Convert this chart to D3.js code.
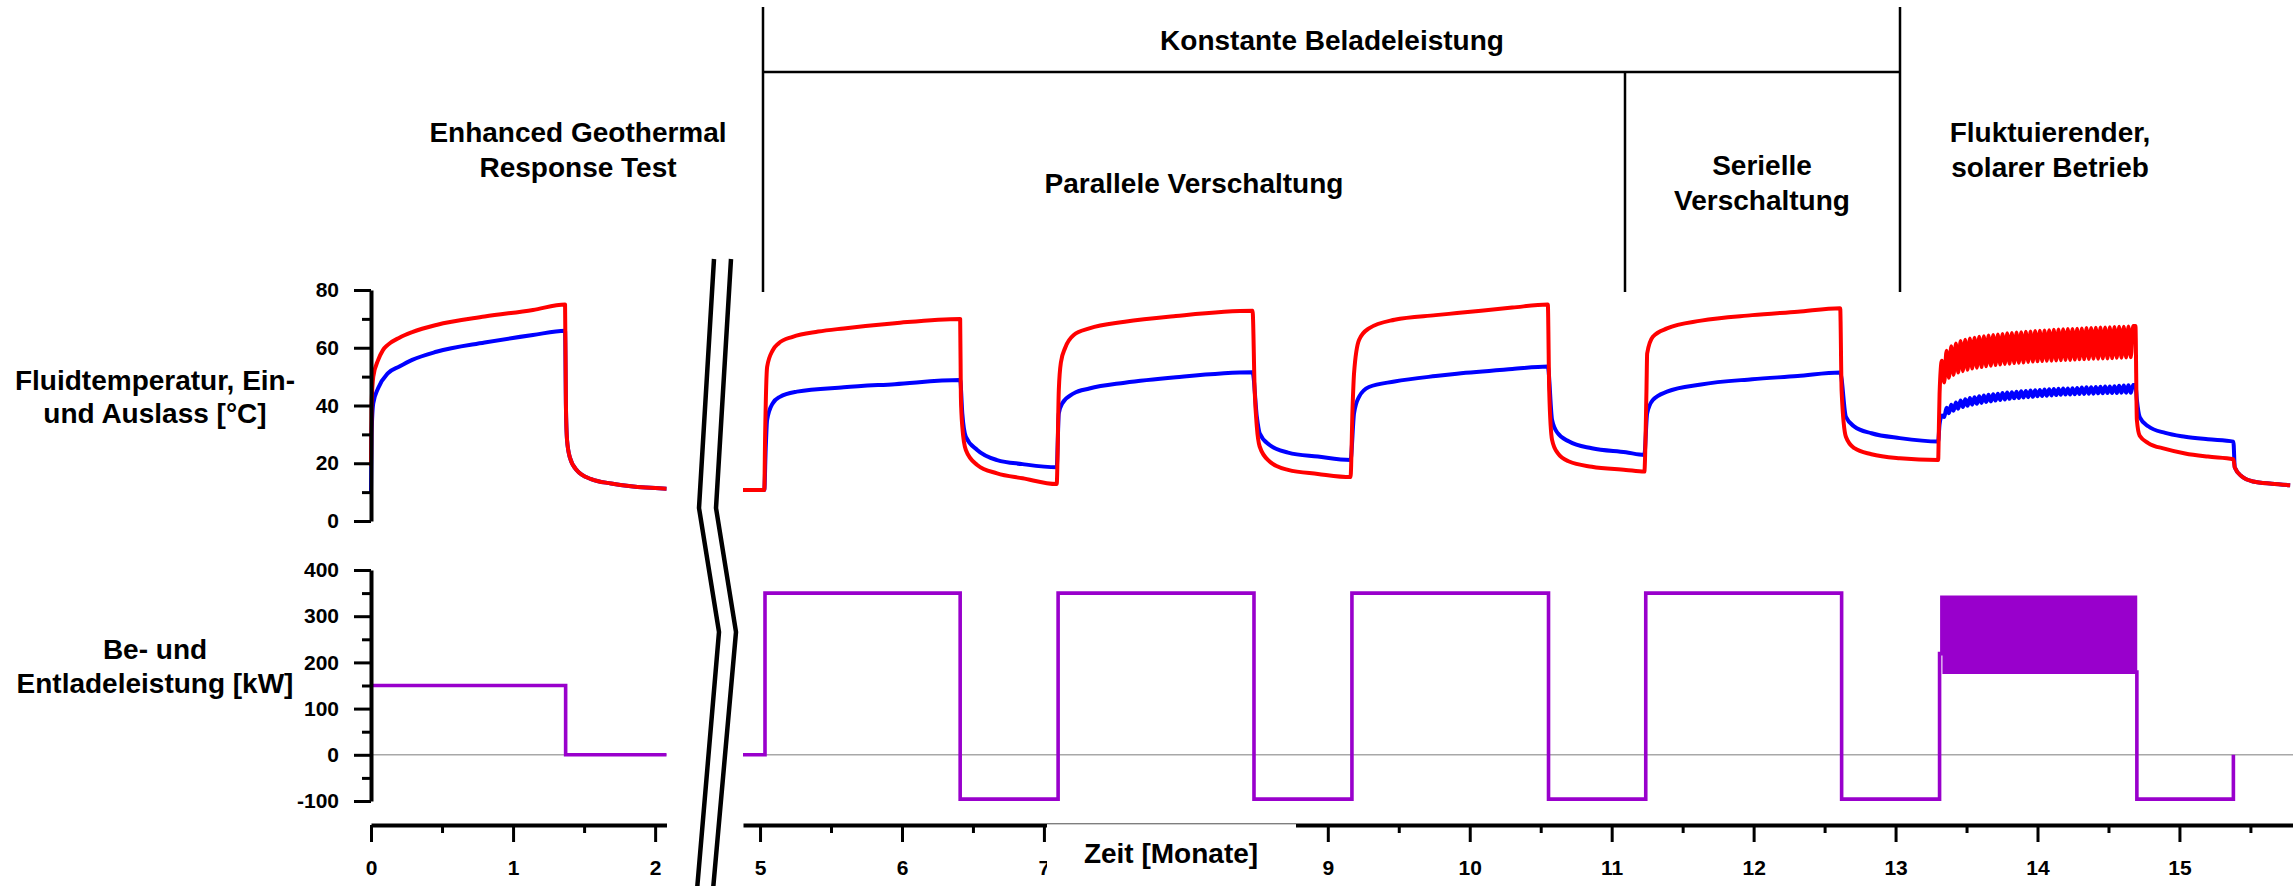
<!DOCTYPE html>
<html>
<head>
<meta charset="utf-8">
<script src="https://cdn.jsdelivr.net/npm/d3@7"></script>
<style>
  html, body { margin: 0; padding: 0; background: #fff; }
  svg { display: block; }
  text { font-family: "Liberation Sans", Arial, Helvetica, sans-serif; font-weight: bold; fill: #000; }
</style>
</head>
<body>
<svg id="chart" width="2293" height="886"></svg>
<script>
// ---------------- data ----------------
// time in months, temperature in °C, power in kW

const egrtMonthTicks = [0, 1, 2];
const egrtMonthMinor = [0.5, 1.5];
// month 8 sits under the axis title box, so it carries no label
const monthTicks = [5, 6, 7, 9, 10, 11, 12, 13, 14, 15];
const monthMinor = [5.5, 6.5, 7.5, 8.5, 9.5, 10.5, 11.5, 12.5, 13.5, 14.5, 15.5];
const tempTicks = [0, 20, 40, 60, 80];
const tempMinor = [10, 30, 50, 70];
const powerTicks = [-100, 0, 100, 200, 300, 400];
const powerMinor = [-50, 50, 150, 250, 350];

// Enhanced Geothermal Response Test
const egrtInlet = [
  [0, 19], [0.004, 40], [0.016, 50], [0.05, 55.7], [0.084, 59.2], [0.118, 61], [0.2, 63.5],
  [0.29, 65.4], [0.46, 67.9], [0.8, 70.8], [1.14, 73.1], [1.366, 75],
  [1.372, 40], [1.38, 28], [1.40, 22], [1.45, 17.5], [1.55, 14.5], [1.69, 13], [1.83, 12], [2.08, 11.2]
];
const egrtOutlet = [
  [0, 10], [0.004, 30], [0.016, 40.8], [0.05, 46], [0.118, 51.1], [0.2, 53.5], [0.29, 55.8],
  [0.46, 58.6], [0.8, 61.8], [1.14, 64.4], [1.366, 65.9],
  [1.372, 40], [1.38, 28], [1.40, 22], [1.45, 17.5], [1.55, 14.5], [1.69, 13], [1.83, 12], [2.08, 11.2]
];
const egrtPower = [[0, 150], [1.37, 0], [2.08, 0]];

// Constant charging (parallel and serial), before the solar period
const inletBefore = [
  [4.88, 10.7], [5.03, 10.7], [5.036, 30], [5.05, 53.4], [5.09, 59.2], [5.13, 61.5], [5.23, 63.8],
  [5.41, 65.6], [5.59, 66.7], [5.95, 68.5], [6.41, 70.0],
  [6.415, 43], [6.425, 32.7], [6.45, 24.6], [6.53, 19.4], [6.67, 16.5], [6.85, 14.8], [7.09, 12.8],
  [7.105, 45.4], [7.12, 55], [7.15, 60], [7.21, 64.4], [7.32, 66.7], [7.57, 69.0], [7.93, 71], [8.47, 72.8],
  [8.485, 45], [8.50, 32.7], [8.52, 25.8], [8.59, 20.6], [8.72, 17.7], [8.93, 16.3], [9.16, 15.2],
  [9.175, 40], [9.185, 51.2], [9.22, 62.7], [9.29, 66.7], [9.47, 69.7], [9.76, 71.3], [9.91, 72],
  [10.3, 73.9], [10.55, 75],
  [10.56, 45], [10.58, 28.1], [10.62, 23.5], [10.70, 20.6], [10.86, 18.8], [11.10, 17.7], [11.23, 17.1],
  [11.245, 45], [11.25, 58], [11.29, 63.8], [11.39, 66.7], [11.63, 69.4], [11.99, 71.3], [12.31, 72.5],
  [12.61, 73.7],
  [12.62, 45], [12.65, 29.2], [12.71, 25.2], [12.83, 23.1], [13.03, 21.7], [13.30, 21.1], [13.305, 32]
];
const outletBefore = [
  [4.88, 10.7], [5.03, 10.7], [5.04, 25], [5.05, 35], [5.09, 40.8], [5.14, 43], [5.26, 44.8],
  [5.59, 46.3], [5.95, 47.4], [6.41, 48.8],
  [6.425, 37.3], [6.45, 29.2], [6.53, 24.6], [6.67, 21.1], [6.85, 19.7], [7.09, 18.6],
  [7.105, 37.3], [7.13, 40.8], [7.21, 44.2], [7.32, 45.9], [7.57, 47.9], [7.93, 49.8], [8.47, 51.5],
  [8.50, 36.1], [8.52, 30.4], [8.59, 26.3], [8.72, 23.7], [8.93, 22.3], [9.16, 21.1],
  [9.185, 37.3], [9.22, 43], [9.29, 46.4], [9.47, 48.3], [9.76, 50.2], [9.91, 51.0], [10.3, 52.6],
  [10.55, 53.5],
  [10.58, 35], [10.62, 30.4], [10.70, 27.5], [10.86, 25.2], [11.10, 23.8], [11.23, 22.9],
  [11.25, 37.3], [11.29, 41.9], [11.39, 44.8], [11.63, 47.3], [11.99, 49.1], [12.31, 50.2], [12.61, 51.4],
  [12.65, 36.1], [12.71, 32.7], [12.83, 30.4], [13.03, 28.7], [13.30, 27.5]
];

// Fluctuating solar operation: one entry per day (daily maximum / minimum)
const solarStart = 13.31;
const solarEnd = 14.69;
const solarInletHigh = [
  55.5, 59.0, 60.5, 61.5, 62.3, 62.8, 63.2, 63.5, 63.8, 64.0, 64.2, 64.4, 64.6, 64.8,
  65.0, 65.1, 65.3, 65.4, 65.5, 65.6, 65.8, 65.9, 66.0, 66.1, 66.2, 66.3, 66.4, 66.5,
  66.5, 66.6, 66.7, 66.8, 66.8, 66.9, 67.0, 67.0, 67.1, 67.2, 67.3, 67.3, 67.4, 67.5
];
const solarInletLow = [
  44.0, 48.0, 49.6, 50.6, 51.4, 51.9, 52.4, 52.8, 53.1, 53.3, 53.6, 53.8, 54.0, 54.2,
  54.4, 54.5, 54.7, 54.8, 54.9, 55.1, 55.2, 55.3, 55.4, 55.5, 55.5, 55.6, 55.7, 55.8,
  55.8, 55.9, 56.0, 56.0, 56.1, 56.2, 56.2, 56.3, 56.3, 56.4, 56.5, 56.5, 56.6, 56.7
];
const solarOutletHigh = [
  36.5, 39.2, 40.3, 41.0, 41.7, 42.2, 42.6, 42.9, 43.2, 43.5, 43.7, 43.9, 44.1, 44.3,
  44.5, 44.6, 44.8, 44.9, 45.0, 45.2, 45.3, 45.4, 45.5, 45.6, 45.7, 45.8, 45.9, 45.9,
  46.0, 46.1, 46.2, 46.3, 46.3, 46.4, 46.5, 46.6, 46.6, 46.7, 46.8, 46.9, 47.0, 47.1
];
const solarOutletLow = [
  33.5, 36.0, 37.3, 38.2, 38.9, 39.5, 39.9, 40.3, 40.6, 40.9, 41.2, 41.4, 41.7, 41.9,
  42.1, 42.3, 42.5, 42.6, 42.8, 42.9, 43.0, 43.2, 43.3, 43.4, 43.5, 43.6, 43.7, 43.8,
  43.8, 43.9, 44.0, 44.0, 44.1, 44.1, 44.2, 44.2, 44.3, 44.3, 44.3, 44.4, 44.4, 44.4
];
const solarPowerHigh = [
  341, 341, 341, 341, 341, 341, 341, 341, 341, 341, 341, 341, 341, 341,
  341, 341, 341, 341, 341, 341, 341, 341, 341, 341, 341, 341, 341, 341,
  341, 341, 341, 341, 341, 341, 341, 341, 341, 341, 341, 341, 341, 341
];
const solarPowerLow = [
  179, 179, 179, 179, 179, 179, 179, 179, 179, 179, 179, 179, 179, 179,
  179, 179, 179, 179, 179, 179, 179, 179, 179, 179, 179, 179, 179, 179,
  179, 179, 179, 179, 179, 179, 179, 179, 179, 179, 179, 179, 179, 179
];

// Discharge after the solar period and final standstill
const inletAfter = [
  [14.69, 67.5], [14.70, 35], [14.72, 29.5], [14.78, 27], [14.9, 25], [15.04, 23.4], [15.2, 22.3],
  [15.38, 21.4], [15.39, 18.5], [15.44, 15.4], [15.52, 13.7], [15.65, 12.9], [15.78, 12.4]
];
const outletAfter = [
  [14.69, 47.1], [14.70, 42], [14.72, 36], [14.78, 32.8], [14.9, 30.5], [15.04, 29.2], [15.2, 28.3],
  [15.38, 27.5], [15.39, 18.5], [15.44, 15.4], [15.52, 13.7], [15.65, 12.9], [15.78, 12.4]
];

// Charging / discharging power (step changes)
const powerBefore = [
  [4.88, 0], [5.035, 350], [6.41, -96], [7.10, 350], [8.48, -96], [9.17, 350], [10.555, -96],
  [11.24, 350], [12.62, -96], [13.31, 219]
];
const powerAfter = [[14.70, -96], [15.38, 0]];

// ---------------- drawing ----------------
const svg = d3.select("#chart");

const COL_IN = "#ff0000";
const COL_OUT = "#0000ff";
const COL_POW = "#9900cc";

const tempY = d3.scaleLinear().domain([0, 80]).range([521, 290]);
const powerY = d3.scaleLinear().domain([-100, 400]).range([801, 570]);
const xLeft = d3.scaleLinear().domain([0, 2.08]).range([371, 666.5]);
const xRight = d3.scaleLinear().domain([4.88, 15.8]).range([743, 2293]);
const AXIS_Y = 825;
const plain = d => String(d);   // integer labels with an ASCII hyphen for negatives

// daily samples of the solar period
const dayLen = (solarEnd - solarStart) / solarInletHigh.length;
function dailyTemps(low, high) {
  return low.flatMap((lo, i) => [
    [solarStart + i * dayLen, lo],
    [solarStart + (i + 0.5) * dayLen, high[i]]
  ]);
}
function dailyPower(high, low) {
  return high.flatMap((hi, i) => [
    [solarStart + (i + 0.5) * dayLen, hi],
    [solarStart + (i + 1) * dayLen, low[i]]
  ]);
}

const inletSeries = inletBefore.concat(dailyTemps(solarInletLow, solarInletHigh), inletAfter);
const outletSeries = outletBefore.concat(dailyTemps(solarOutletLow, solarOutletHigh), outletAfter);
const powerSeries = powerBefore.concat(dailyPower(solarPowerHigh, solarPowerLow), powerAfter);

function tempLine(x) {
  return d3.line().x(d => x(d[0])).y(d => tempY(d[1])).curve(d3.curveMonotoneX);
}
function powerLine(x) {
  return d3.line().x(d => x(d[0])).y(d => powerY(d[1])).curve(d3.curveStepAfter);
}

// zero reference lines in the power panel
[[xLeft, 0, 2.08], [xRight, 4.88, 15.8]].forEach(([x, a, b]) => {
  svg.append("line")
    .attr("x1", x(a)).attr("x2", x(b))
    .attr("y1", powerY(0)).attr("y2", powerY(0))
    .attr("stroke", "#a8a8a8").attr("stroke-width", 1.6);
});

// temperature curves
function drawTemps(x, outlet, inlet) {
  svg.append("path").datum(outlet).attr("d", tempLine(x))
    .attr("fill", "none").attr("stroke", COL_OUT).attr("stroke-width", 4).attr("stroke-linejoin", "round");
  svg.append("path").datum(inlet).attr("d", tempLine(x))
    .attr("fill", "none").attr("stroke", COL_IN).attr("stroke-width", 4).attr("stroke-linejoin", "round");
}
drawTemps(xLeft, egrtOutlet, egrtInlet);
drawTemps(xRight, outletSeries, inletSeries);

// power curves
[[xLeft, egrtPower], [xRight, powerSeries]].forEach(([x, data]) => {
  svg.append("path").datum(data).attr("d", powerLine(x))
    .attr("fill", "none").attr("stroke", COL_POW).attr("stroke-width", 3.6);
});

// axes
function styleAxis(g, fontSize) {
  g.select(".domain").attr("stroke", "#000").attr("stroke-width", 4);
  g.selectAll(".tick line").attr("stroke", "#000").attr("stroke-width", 3);
  g.selectAll(".tick text").attr("font-size", fontSize).attr("font-family", null).attr("fill", "#000");
}
function yAxis(scale, major, minor) {
  const g = svg.append("g").attr("transform", "translate(371,0)");
  g.append("g").call(d3.axisLeft(scale).tickValues(minor).tickSize(9).tickFormat(""))
    .call(s => s.select(".domain").remove())
    .call(s => s.selectAll(".tick line").attr("stroke", "#000").attr("stroke-width", 3));
  g.append("g").call(d3.axisLeft(scale).tickValues(major).tickFormat(plain)
      .tickSize(17).tickSizeOuter(0).tickPadding(15))
    .call(s => styleAxis(s, 21));
}
function xAxis(scale, major, minor) {
  const g = svg.append("g").attr("transform", `translate(0,${AXIS_Y})`);
  g.append("g").call(d3.axisBottom(scale).tickValues(minor).tickSize(8).tickFormat(""))
    .call(s => s.select(".domain").remove())
    .call(s => s.selectAll(".tick line").attr("stroke", "#000").attr("stroke-width", 3));
  g.append("g").call(d3.axisBottom(scale).tickValues(major).tickFormat(plain)
      .tickSize(17).tickSizeOuter(0).tickPadding(18))
    .call(s => styleAxis(s, 21));
}
yAxis(tempY, tempTicks, tempMinor);
yAxis(powerY, powerTicks, powerMinor);
xAxis(xLeft, egrtMonthTicks, egrtMonthMinor);
xAxis(xRight, monthTicks, monthMinor);

// axis break marks
const breakLine = d3.line();
[
  [[714, 259], [699, 508], [719, 632], [697, 890]],
  [[731, 259], [716, 508], [736, 632], [713, 890]]
].forEach(pts => {
  svg.append("path").attr("d", breakLine(pts))
    .attr("fill", "none").attr("stroke", "#000").attr("stroke-width", 4.5).attr("stroke-linejoin", "miter");
});

// x axis title on a white box
svg.append("rect").attr("x", 1047).attr("y", 824.2).attr("width", 249).attr("height", 62).attr("fill", "#fff");
svg.append("text").attr("x", 1171).attr("y", 863).attr("text-anchor", "middle")
  .attr("font-size", 28).text("Zeit [Monate]");

// y axis titles
function label(x, y, txt, size) {
  svg.append("text").attr("x", x).attr("y", y).attr("text-anchor", "middle")
    .attr("font-size", size || 28).text(txt);
}
label(155, 390, "Fluidtemperatur, Ein-");
label(155, 423, "und Auslass [°C]");
label(155, 659, "Be- und");
label(155, 693, "Entladeleistung [kW]");

// phase annotations
function rule(x1, y1, x2, y2) {
  svg.append("line").attr("x1", x1).attr("y1", y1).attr("x2", x2).attr("y2", y2)
    .attr("stroke", "#000").attr("stroke-width", 2.5);
}
rule(763, 7, 763, 292);
rule(763, 72, 1900, 72);
rule(1625, 72, 1625, 292);
rule(1900, 7, 1900, 292);

label(578, 142, "Enhanced Geothermal");
label(578, 177, "Response Test");
label(1332, 50, "Konstante Beladeleistung");
label(1194, 193, "Parallele Verschaltung");
label(1762, 175, "Serielle");
label(1762, 210, "Verschaltung");
label(2050, 142, "Fluktuierender,");
label(2050, 177, "solarer Betrieb");
</script>
</body>
</html>
